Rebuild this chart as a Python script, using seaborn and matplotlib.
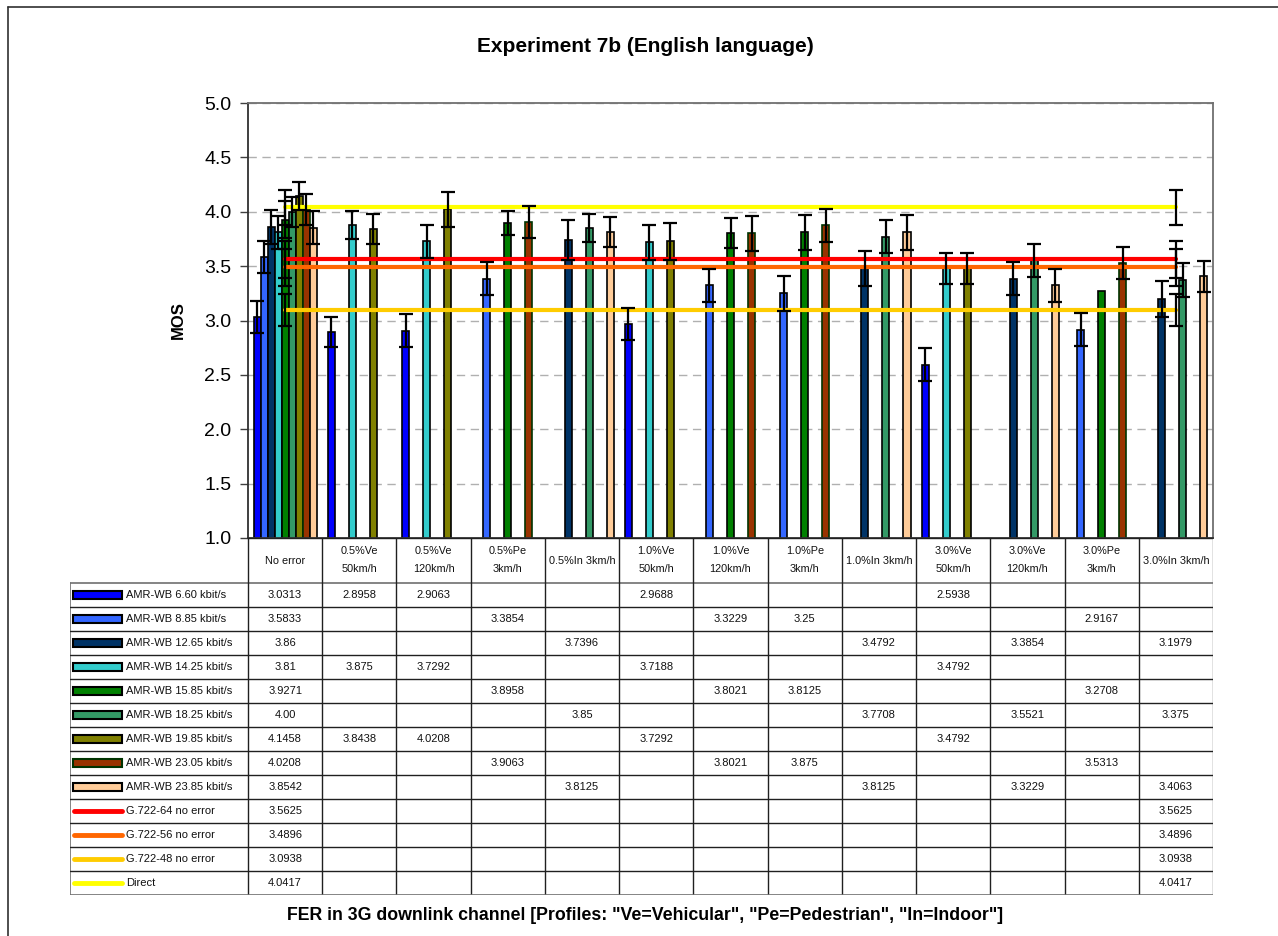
import numpy as np
import pandas as pd
import matplotlib
matplotlib.use("Agg")
import matplotlib.pyplot as plt
import seaborn as sns
from matplotlib.lines import Line2D
from matplotlib.patches import Rectangle

sns.set_theme(style="white")
plt.rcParams['font.family'] = ['Liberation Sans', 'DejaVu Sans']
plt.rcParams['text.color'] = 'black'
plt.rcParams['axes.labelcolor'] = 'black'
plt.rcParams['ytick.color'] = 'black'
plt.rcParams['xtick.color'] = 'black'

nan = np.nan

# ---------------- data ----------------
categories = ["No error", "0.5%Ve 50km/h", "0.5%Ve 120km/h", "0.5%Pe 3km/h",
              "0.5%In 3km/h", "1.0%Ve 50km/h", "1.0%Ve 120km/h", "1.0%Pe 3km/h",
              "1.0%In 3km/h", "3.0%Ve 50km/h", "3.0%Ve 120km/h", "3.0%Pe 3km/h",
              "3.0%In 3km/h"]
cat_labels = ["No error", "0.5%Ve\n50km/h", "0.5%Ve\n120km/h", "0.5%Pe\n3km/h",
              "0.5%In 3km/h", "1.0%Ve\n50km/h", "1.0%Ve\n120km/h", "1.0%Pe\n3km/h",
              "1.0%In 3km/h", "3.0%Ve\n50km/h", "3.0%Ve\n120km/h", "3.0%Pe\n3km/h",
              "3.0%In 3km/h"]

series_names = ["AMR-WB 6.60 kbit/s", "AMR-WB 8.85 kbit/s", "AMR-WB 12.65 kbit/s",
                "AMR-WB 14.25 kbit/s", "AMR-WB 15.85 kbit/s", "AMR-WB 18.25 kbit/s",
                "AMR-WB 19.85 kbit/s", "AMR-WB 23.05 kbit/s", "AMR-WB 23.85 kbit/s"]
series_colors = ["#0000FF", "#3366FF", "#003366", "#33CCCC", "#008000",
                 "#339966", "#808000", "#993300", "#FFCC99"]

amr_660 = [3.0313, 2.8958, 2.9063, nan, nan, 2.9688, nan, nan, nan, 2.5938, nan, nan, nan]
amr_885 = [3.5833, nan, nan, 3.3854, nan, nan, 3.3229, 3.25, nan, nan, nan, 2.9167, nan]
amr_1265 = [3.86, nan, nan, nan, 3.7396, nan, nan, nan, 3.4792, nan, 3.3854, nan, 3.1979]
amr_1425 = [3.81, 3.875, 3.7292, nan, nan, 3.7188, nan, nan, nan, 3.4792, nan, nan, nan]
amr_1585 = [3.9271, nan, nan, 3.8958, nan, nan, 3.8021, 3.8125, nan, nan, nan, 3.2708, nan]
amr_1825 = [4.00, nan, nan, nan, 3.85, nan, nan, nan, 3.7708, nan, 3.5521, nan, 3.375]
amr_1985 = [4.1458, 3.8438, 4.0208, nan, nan, 3.7292, nan, nan, nan, 3.4792, nan, nan, nan]
amr_2305 = [4.0208, nan, nan, 3.9063, nan, nan, 3.8021, 3.875, nan, nan, nan, 3.5313, nan]
amr_2385 = [3.8542, nan, nan, nan, 3.8125, nan, nan, nan, 3.8125, nan, 3.3229, nan, 3.4063]
series_values = [amr_660, amr_885, amr_1265, amr_1425, amr_1585,
                 amr_1825, amr_1985, amr_2305, amr_2385]

# error bar half-widths
err_660 = [0.15, 0.14, 0.15, nan, nan, 0.15, nan, nan, nan, 0.15, nan, nan, nan]
err_885 = [0.15, nan, nan, 0.15, nan, nan, 0.15, 0.16, nan, nan, nan, 0.15, nan]
err_1265 = [0.16, nan, nan, nan, 0.18, nan, nan, nan, 0.16, nan, 0.15, nan, 0.165]
err_1425 = [0.15, 0.13, 0.15, nan, nan, 0.16, nan, nan, nan, 0.14, nan, nan, nan]
err_1585 = [0.17, nan, nan, 0.11, nan, nan, 0.14, 0.16, nan, nan, nan, 0.0, nan]
err_1825 = [0.14, nan, nan, nan, 0.13, nan, nan, nan, 0.15, nan, 0.15, nan, 0.157]
err_1985 = [0.13, 0.14, 0.16, nan, nan, 0.17, nan, nan, nan, 0.14, nan, nan, nan]
err_2305 = [0.14, nan, nan, 0.15, nan, nan, 0.16, 0.15, nan, nan, nan, 0.147, nan]
err_2385 = [0.15, nan, nan, nan, 0.14, nan, nan, nan, 0.16, nan, 0.15, nan, 0.14]
series_errors = [err_660, err_885, err_1265, err_1425, err_1585,
                 err_1825, err_1985, err_2305, err_2385]

line_names = ["G.722-64 no error", "G.722-56 no error", "G.722-48 no error", "Direct"]
line_colors = ["#FF0000", "#FF6600", "#FFCC00", "#FFFF00"]
line_values = [3.5625, 3.4896, 3.0938, 4.0417]
line_errors = [0.17, 0.17, 0.146, 0.16]

# ---------------- figure ----------------
W, H = 1278, 936
fig = plt.figure(figsize=(W / 100, H / 100), dpi=100)
fig.patch.set_facecolor("white")

ax_l, ax_r, ax_t, ax_b = 248, 1213, 103, 538
ax = fig.add_axes([ax_l / W, 1 - ax_b / H, (ax_r - ax_l) / W, (ax_b - ax_t) / H])

rows = []
for name, vals in zip(series_names, series_values):
    for cat, v in zip(categories, vals):
        if not np.isnan(v):
            rows.append({"cat": cat, "series": name, "MOS": v})
df = pd.DataFrame(rows)

sns.barplot(data=df, x="cat", y="MOS", hue="series", order=categories,
            hue_order=series_names, palette=dict(zip(series_names, series_colors)),
            width=0.85, dodge=True, errorbar=None, edgecolor="black",
            linewidth=1.2, saturation=1, legend=False, ax=ax, zorder=2)

# bar error bars at the bar positions produced by seaborn
for name, cont, errs in zip(series_names, ax.containers, series_errors):
    xs, ys, es = [], [], []
    for p in cont.patches:
        xc = p.get_x() + p.get_width() / 2
        ci = int(round(xc))
        if np.isnan(p.get_height()):
            continue
        if name == "AMR-WB 23.05 kbit/s":
            p.set_edgecolor("#003300")
        e = errs[ci]
        if np.isnan(e) or e == 0:
            continue
        xs.append(xc); ys.append(p.get_height()); es.append(e)
    if xs:
        ax.errorbar(xs, ys, yerr=es, fmt="none", ecolor="black", elinewidth=1.6,
                    capsize=5, capthick=1.6, zorder=5)

# reference lines (values at first and last category)
ldf = pd.DataFrame({
    "x": [0, len(categories) - 1] * len(line_names),
    "MOS": [v for v in line_values for _ in range(2)],
    "series": [n for n in line_names for _ in range(2)],
})
sns.lineplot(data=ldf, x="x", y="MOS", hue="series", hue_order=line_names,
             palette=dict(zip(line_names, line_colors)), linewidth=3,
             legend=False, ax=ax, zorder=4)
for v, e in zip(line_values, line_errors):
    ax.errorbar([0, len(categories) - 1], [v, v], yerr=[e, e], fmt="none",
                ecolor="black", elinewidth=1.6, capsize=5, capthick=1.6, zorder=5)

ax.set_xlim(-0.5, len(categories) - 0.5)
ax.set_ylim(1.0, 5.0)
ax.set_yticks(np.arange(1.0, 5.01, 0.5))
ax.set_yticklabels([f"{t:.1f}" for t in np.arange(1.0, 5.01, 0.5)], fontsize=14)
ax.tick_params(axis="y", length=6, width=1, color="#404040", pad=6, left=True)
ax.set_xticks([])
ax.set_xlabel("")
ax.set_ylabel("")
ax.yaxis.grid(True, linestyle=(0, (6, 4)), color="#B0B0B0", linewidth=1)
ax.set_axisbelow(True)
for s in ["left", "bottom"]:
    ax.spines[s].set_color("#303030"); ax.spines[s].set_linewidth(1.3)
for s in ["top", "right"]:
    ax.spines[s].set_color("#707070"); ax.spines[s].set_linewidth(1.3)

# ---------------- data table ----------------
t_l, t_r, t_t, t_b = 70, 1213, 538, 895
head_b = 583
tab = fig.add_axes([t_l / W, 1 - t_b / H, (t_r - t_l) / W, (t_b - t_t) / H])
tab.set_xlim(t_l, t_r)
tab.set_ylim(t_b, t_t)
tab.axis("off")
ncat = len(categories)
col_w = (t_r - ax_l) / ncat
nrows = len(series_names) + len(line_names)
row_h = (t_b - head_b) / nrows
lc = "#202020"

tab.plot([ax_l, t_r], [t_t, t_t], color=lc, lw=1)
tab.plot([t_l, t_r], [head_b, head_b], color="#707070", lw=1.2)
for i in range(ncat + 1):
    tab.plot([ax_l + i * col_w] * 2, [t_t, t_b], color=lc if i < ncat else "#707070", lw=1)
tab.plot([t_l, t_l], [head_b, t_b], color="#707070", lw=1.2)
for k in range(1, nrows + 1):
    tab.plot([t_l, t_r], [head_b + k * row_h] * 2,
             color=lc if k < nrows else "#707070", lw=1 if k < nrows else 1.2)

for i, lab in enumerate(cat_labels):
    cx = ax_l + (i + 0.5) * col_w
    tab.text(cx, (t_t + head_b) / 2, lab, ha="center", va="center",
             fontsize=7.8, linespacing=2.0, color="#111111")

all_names = series_names + line_names
all_colors = series_colors + line_colors
all_vals = series_values + [[v] + [nan] * (ncat - 2) + [v] for v in line_values]
for r, (name, col, vals) in enumerate(zip(all_names, all_colors, all_vals)):
    cy = head_b + (r + 0.5) * row_h
    if r < len(series_names):
        ec = "#003300" if name == "AMR-WB 23.05 kbit/s" else "black"
        tab.add_patch(Rectangle((73, cy - 4), 49, 8, facecolor=col, edgecolor=ec, lw=1.5))
    else:
        tab.plot([74, 122], [cy, cy], color=col, lw=3.5, solid_capstyle="round")
    tab.text(126, cy, name, ha="left", va="center", fontsize=8, color="#111111")
    for i, v in enumerate(vals):
        if not np.isnan(v):
            txt = "4.00" if v == 4.0 else f"{v:g}"
            tab.text(ax_l + (i + 0.5) * col_w, cy, txt, ha="center", va="center",
                     fontsize=8, color="#111111")

# ---------------- texts & frame ----------------
fig.text(645 / W, 1 - 47 / H, "Experiment 7b (English language)", ha="center",
         va="center", fontsize=15, fontweight="bold")
fig.text(178 / W, 1 - 320 / H, "MOS", ha="center", va="center", rotation=90,
         fontsize=12, fontweight="bold")
fig.text(645 / W, 1 - 916 / H,
         'FER in 3G downlink channel [Profiles: "Ve=Vehicular", "Pe=Pedestrian", "In=Indoor"]',
         ha="center", va="center", fontsize=12.8, fontweight="bold")
fig.add_artist(Line2D([8 / W, 8 / W], [0, 1 - 7 / H], color="#303030", lw=1.2))
fig.add_artist(Line2D([8 / W, 1], [1 - 7 / H, 1 - 7 / H], color="#303030", lw=1.2))

fig.savefig("out.png", dpi=100, facecolor="white")
